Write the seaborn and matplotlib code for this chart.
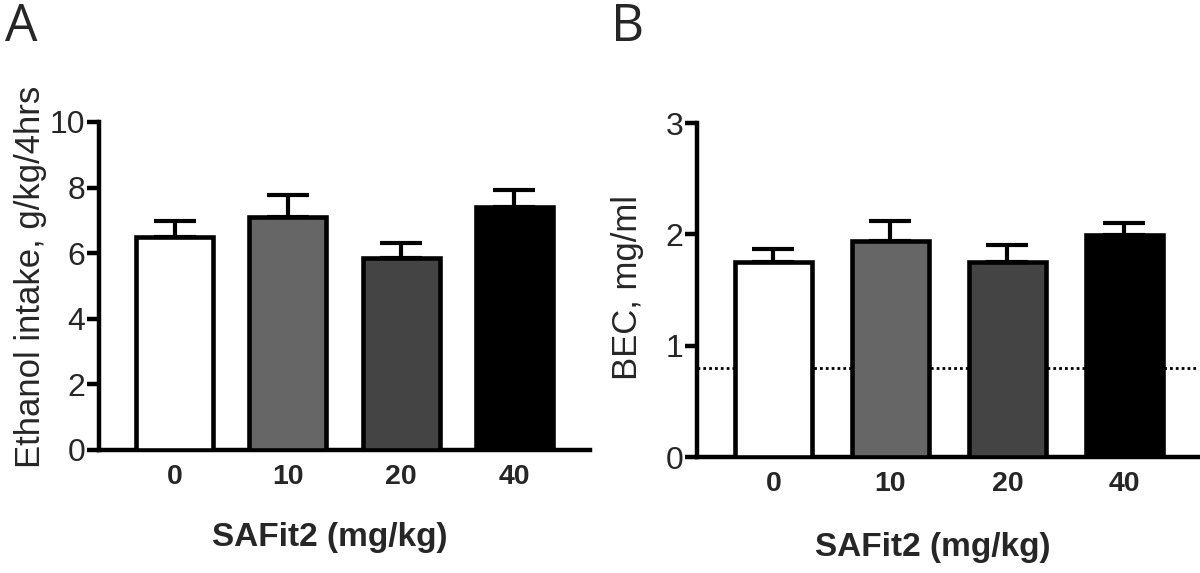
import numpy as np
import pandas as pd
import matplotlib
matplotlib.use('Agg')
import matplotlib.pyplot as plt
import seaborn as sns

# Data
doses = ['0', '10', '20', '40']
intake_mean = [6.5, 7.1, 5.85, 7.42]      # g/kg/4hrs
intake_sem = [0.49, 0.67, 0.45, 0.5]
bec_mean = [1.75, 1.94, 1.75, 1.99]       # mg/ml
bec_sem = [0.12, 0.18, 0.15, 0.11]
bec_threshold = 0.8
bar_colors = ['#ffffff', '#666666', '#444444', '#000000']

sns.set_style('ticks')
plt.rcParams['font.family'] = ['Liberation Sans', 'DejaVu Sans']

fig = plt.figure(figsize=(12, 5.73), dpi=100)
axA = fig.add_axes([0.0825, 0.2147, 0.4092, 0.5725])
axB = fig.add_axes([0.5808, 0.2024, 0.4175, 0.5829])

palette = dict(zip(doses, bar_colors))


def draw_panel(ax, means, sems, width, ylim, yticks, ylabel, xlim):
    df = pd.DataFrame({'dose': doses, 'value': means})
    sns.barplot(data=df, x='dose', y='value', hue='dose', palette=palette,
                order=doses, legend=False, width=width, edgecolor='black',
                linewidth=3.3, saturation=1, ax=ax, zorder=3)
    ax.errorbar(np.arange(len(doses)), means, yerr=[np.zeros(len(sems)), sems],
                fmt='none', ecolor='black', elinewidth=3, capsize=15, capthick=3,
                zorder=4)
    ax.set_ylim(*ylim)
    ax.set_xlim(*xlim)
    ax.set_yticks(yticks)
    ax.set_yticklabels([str(t) for t in yticks], fontsize=23)
    ax.set_xticks(range(len(doses)))
    ax.set_xticklabels(doses, fontsize=20.5, fontweight='bold')
    ax.tick_params(axis='y', length=9, width=3.2, pad=1, color='black')
    ax.tick_params(axis='x', length=0, pad=10)
    for s in ['top', 'right']:
        ax.spines[s].set_visible(False)
    for s in ['left', 'bottom']:
        ax.spines[s].set_linewidth(3.2)
        ax.spines[s].set_color('black')
    ax.set_xlabel('SAFit2 (mg/kg)', fontsize=24, fontweight='bold', va='center')
    ax.set_ylabel(ylabel, fontsize=25, va='center')


draw_panel(axA, intake_mean, intake_sem, 0.68, (0, 10), [0, 2, 4, 6, 8, 10],
           'Ethanol intake, g/kg/4hrs', (-0.667, 3.667))
axA.xaxis.set_label_coords(0.470, -0.268)
axA.yaxis.set_label_coords(-0.1405, 0.527)

draw_panel(axB, bec_mean, bec_sem, 0.66, (0, 3), [0, 1, 2, 3],
           'BEC, mg/ml', (-0.654, 3.63))
axB.axhline(bec_threshold, color='black', linestyle=(0, (1, 1.1)),
            linewidth=2, zorder=1)
axB.xaxis.set_label_coords(0.471, -0.272)
axB.yaxis.set_label_coords(-0.138, 0.509)

# Panel letters
fig.text(5 / 1200, 1 - 41 / 573, 'A', fontsize=37, family=['Open Sans', 'DejaVu Sans'],
         va='baseline', ha='left')
fig.text(611 / 1200, 1 - 41 / 573, 'B', fontsize=37, family=['Open Sans', 'DejaVu Sans'],
         va='baseline', ha='left')

fig.savefig('out.png', dpi=100, facecolor='white')
